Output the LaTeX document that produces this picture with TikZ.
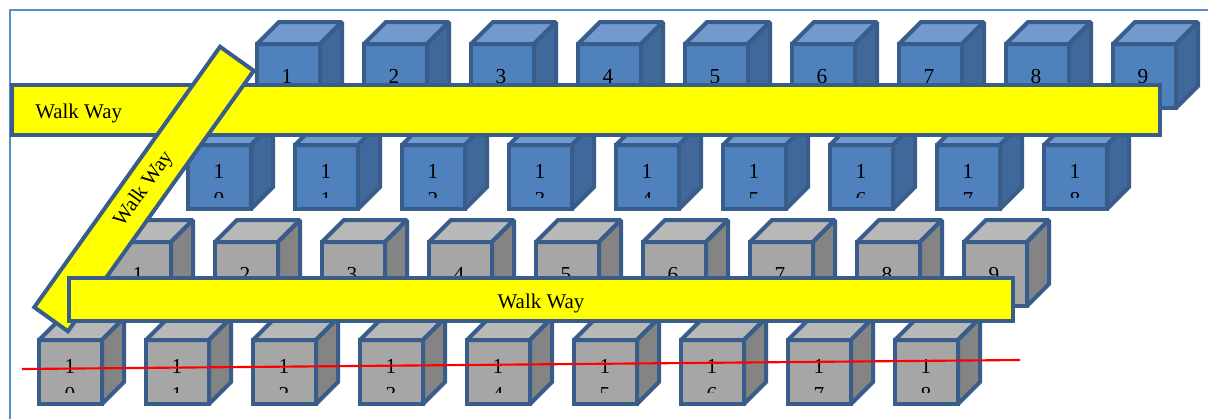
\documentclass[tikz,border=0pt]{standalone}
\usepackage{fontspec}
\setmainfont{Liberation Serif}

\definecolor{frameblue}{HTML}{5B8BC8}
\definecolor{cubeline}{HTML}{385D8A}
\definecolor{bluefront}{HTML}{4F81BD}
\definecolor{bluetop}{HTML}{729ACE}
\definecolor{blueside}{HTML}{41689A}
\definecolor{greyfront}{HTML}{A6A6A6}
\definecolor{greytop}{HTML}{B8B8B8}
\definecolor{greyside}{HTML}{848484}
\definecolor{walkyellow}{HTML}{FFFF00}

\tikzset{
  cubeedge/.style={draw=cubeline, line width=3pt, miter limit=2},
  walk/.style={draw=cubeline, fill=walkyellow, line width=3pt},
  numlabel/.style={inner sep=0pt, font=\fontsize{16}{18}\selectfont},
  walklabel/.style={inner sep=0pt, font=\fontsize{15.7}{18}\selectfont},
  frameline/.style={draw=frameblue, line width=2.2pt},
  redline/.style={draw=red, line width=1.6pt},
}

% a storage cube: #1 left edge, #2 top of front face, #3 colour family
\newcommand\drawcube[3]{%
  \filldraw[cubeedge, fill=#3front] (#1+2,#2+2) rectangle (#1+65,#2+66);
  \filldraw[cubeedge, fill=#3top] (#1+2,#2+2) -- (#1+24,#2-20) -- (#1+87,#2-20) -- (#1+65,#2+2) -- cycle;
  \filldraw[cubeedge, fill=#3side] (#1+65,#2+2) -- (#1+87,#2-20) -- (#1+87,#2+44) -- (#1+65,#2+66) -- cycle;
}
% one-line number on the front face
\newcommand\onelabel[4]{%
  \node[numlabel, anchor=base] (#4) at (#1+32,#2+41) {#3};
}
% two-line number, the second line cut off by the text area
\newcommand\twolabel[5]{%
  \node[numlabel, anchor=base] (#5a) at (#1+33,#2+35.5) {#3};
  \begin{scope}
    \clip (#1,#2) rectangle (#1+67,#2+54);
    \node[numlabel, anchor=base] (#5b) at (#1+33,#2+63) {#4};
  \end{scope}
}

\begin{document}
\begin{tikzpicture}[x=0.75pt, y=-0.75pt]
\useasboundingbox (0,0) rectangle (1208,419);
\fill[white] (0,0) rectangle (1208,419);

% page frame
\draw[frameline] (10,419) -- (10,10) -- (1208,10);

% blue rows
\foreach \i in {1,...,9} {
  \pgfmathsetmacro\L{255+107*(\i-1)}
  \drawcube{\L}{42}{blue}
  \onelabel{\L}{42}{\i}{top\i}
}
\foreach \k in {0,...,8} {
  \pgfmathsetmacro\L{186+107*\k}
  \drawcube{\L}{143}{blue}
  \twolabel{\L}{143}{1}{\k}{topx\k}
}

% upper walk way
\node[walk, minimum width=861pt, minimum height=37.5pt, inner sep=0pt] (walkA) at (586,110) {};
\node[walklabel, anchor=base west] (walkAtext) at (35,118) {Walk Way};

% grey rows
\foreach \i in {1,...,9} {
  \pgfmathsetmacro\L{106+107*(\i-1)}
  \drawcube{\L}{240}{grey}
  \onelabel{\L}{240}{\i}{low\i}
}
\foreach \k in {0,...,8} {
  \pgfmathsetmacro\L{37+107*\k}
  \drawcube{\L}{338}{grey}
  \twolabel{\L}{338}{1}{\k}{lowx\k}
}

% diagonal walk way
\node[walk, walklabel, rotate=54.5, minimum width=240pt, minimum height=31pt] (walkB) at (144,189) {Walk Way};

% lower walk way
\node[walk, minimum width=708pt, minimum height=32pt, inner sep=0pt] (walkC) at (541,299.5) {};
\node[walklabel, anchor=base] (walkCtext) at (541,308) {Walk Way};

% red marking line
\coordinate (redL) at (22,369);
\coordinate (redR) at (1020,360);
\draw[redline] (redL) -- (redR);
\end{tikzpicture}
\end{document}
